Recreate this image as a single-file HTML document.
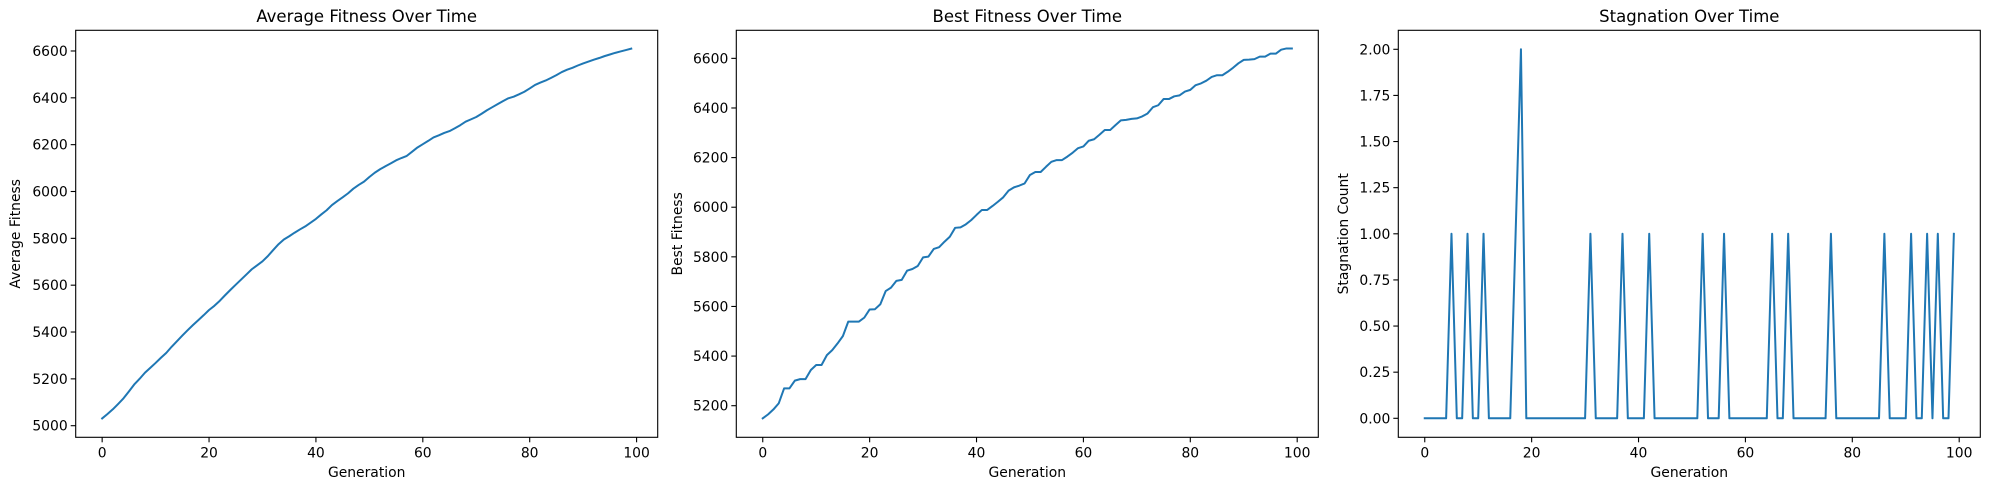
<!DOCTYPE html>
<html><head><meta charset="utf-8">
<style>
html,body{margin:0;padding:0;background:#fff;}
svg{display:block;font-family:"DejaVu Sans","Liberation Sans",sans-serif;}
</style></head>
<body>
<svg id="fig" width="1990" height="490" viewBox="0 0 1990 490" xmlns="http://www.w3.org/2000/svg"></svg>
<script>
const generations = Array.from({length:100},(_,i)=>i);
const avgFitness = [5031,5050,5070,5093,5117,5146,5176,5200,5226,5247,5268,5290,5311,5337,5361,5385,5408,5430,5451,5472,5494,5512,5533,5557,5580,5602,5624,5646,5668,5685,5702,5724,5750,5775,5795,5809,5824,5838,5851,5867,5883,5902,5920,5942,5959,5975,5992,6012,6028,6042,6062,6080,6095,6108,6120,6133,6143,6152,6170,6188,6202,6216,6231,6240,6250,6258,6270,6283,6298,6308,6318,6332,6347,6360,6373,6386,6398,6405,6415,6426,6440,6455,6465,6474,6485,6497,6510,6520,6528,6538,6547,6555,6563,6570,6578,6585,6592,6598,6604,6610];
const bestFitness = [5149,5165,5185,5210,5270,5270,5301,5307,5307,5344,5364,5364,5404,5424,5451,5481,5539,5539,5539,5555,5588,5589,5609,5662,5676,5703,5707,5744,5751,5763,5798,5801,5832,5839,5861,5881,5917,5919,5931,5948,5969,5989,5989,6005,6022,6040,6067,6080,6087,6096,6130,6142,6142,6163,6183,6190,6190,6204,6220,6238,6245,6268,6274,6292,6311,6311,6331,6350,6352,6356,6358,6366,6378,6403,6411,6436,6436,6447,6451,6466,6473,6492,6499,6510,6525,6532,6532,6546,6562,6580,6594,6595,6597,6607,6607,6619,6619,6635,6640,6640];
const stagnationSpikes = [5,8,11,17,18,31,37,42,52,56,65,68,76,86,91,94,96,99];
const stagnationValues = [1,1,1,1,2,1,1,1,1,1,1,1,1,1,1,1,1,1];
const xTicks = [0,20,40,60,80,100];
const avgTicks = [5000,5200,5400,5600,5800,6000,6200,6400,6600];
const bestTicks = [5200,5400,5600,5800,6000,6200,6400,6600];
const stagTicks = [0,0.25,0.5,0.75,1,1.25,1.5,1.75,2];
const stagTickLabels = ["0.00","0.25","0.50","0.75","1.00","1.25","1.50","1.75","2.00"];

const stagnation = generations.map(()=>0);
stagnationSpikes.forEach((g,i)=>{stagnation[g]=stagnationValues[i];});

const NS="http://www.w3.org/2000/svg";
const svg=document.getElementById('fig');
function mk(tag,attrs,parent){const e=document.createElementNS(NS,tag);for(const k in attrs)e.setAttribute(k,attrs[k]);(parent||svg).appendChild(e);return e;}

const TOP=30.3, BOT=437.3, W=582;
function panel(cfg){
  const g=mk('g',{});
  
  
  const L=cfg.left, R=L+W;
  const xmin=-4.95, xmax=103.95;
  const xs=v=>L+(v-xmin)/(xmax-xmin)*W;
  const ys=v=>cfg.y0px-(v-cfg.y0)*cfg.yscale;
  // title
  const t=mk('text',{x:(L+R)/2,y:22,'text-anchor':'middle','font-size':'16.5',fill:'#000'},g);
  t.textContent=cfg.title;
  
  
  // line
  const pts=cfg.data.map((v,i)=>xs(generations[i]).toFixed(2)+','+ys(v).toFixed(2)).join(' ');
  const pl=mk('polyline',{points:pts,fill:'none',stroke:'#1f77b4','stroke-width':'2','stroke-linejoin':'round','stroke-linecap':'square'},g);
  
  
  // frame
  const fr=mk('rect',{x:L,y:TOP,width:W,height:BOT-TOP,fill:'none',stroke:'#000','stroke-width':'1.1'},g);
  
  
  // x ticks
  xTicks.forEach(v=>{
    const x=xs(v);
    mk('line',{x1:x,x2:x,y1:BOT,y2:BOT+5,stroke:'#000','stroke-width':'1.1'},g);
    const tl=mk('text',{x:x,y:BOT+20,'text-anchor':'middle','font-size':'13.9',fill:'#000'},g);
    tl.textContent=String(v);
    
    
  });
  // y ticks
  cfg.yticks.forEach((v,i)=>{
    const y=ys(v);
    mk('line',{x1:L-5,x2:L,y1:y,y2:y,stroke:'#000','stroke-width':'1.1'},g);
    const tl=mk('text',{x:L-8,y:y+5,'text-anchor':'end','font-size':'13.9',fill:'#000'},g);
    tl.textContent=cfg.ylabels?cfg.ylabels[i]:String(v);
    
    
  });
  const xl=mk('text',{x:(L+R)/2,y:477,'text-anchor':'middle','font-size':'13.9',fill:'#000'},g);
  xl.textContent='Generation';
  
  
  const yl=mk('text',{x:0,y:0,'text-anchor':'middle','font-size':'13.9',fill:'#000',transform:`translate(${cfg.ylabelX},${(TOP+BOT)/2}) rotate(-90)`},g);
  yl.textContent=cfg.ylabel;
  
  
}
panel({name:'average-fitness-panel',title:'Average Fitness Over Time',left:75.7,data:avgFitness,y0:5000,y0px:425.7,yscale:0.2342,yticks:avgTicks,ylabel:'Average Fitness',ylabelX:20});
panel({name:'best-fitness-panel',title:'Best Fitness Over Time',left:736.3,data:bestFitness,y0:5200,y0px:405.7,yscale:0.2481,yticks:bestTicks,ylabel:'Best Fitness',ylabelX:682});
panel({name:'stagnation-panel',title:'Stagnation Over Time',left:1398.3,data:stagnation,y0:0,y0px:418.3,yscale:184.5,yticks:stagTicks,ylabels:stagTickLabels,ylabel:'Stagnation Count',ylabelX:1348});
</script>
</body></html>
